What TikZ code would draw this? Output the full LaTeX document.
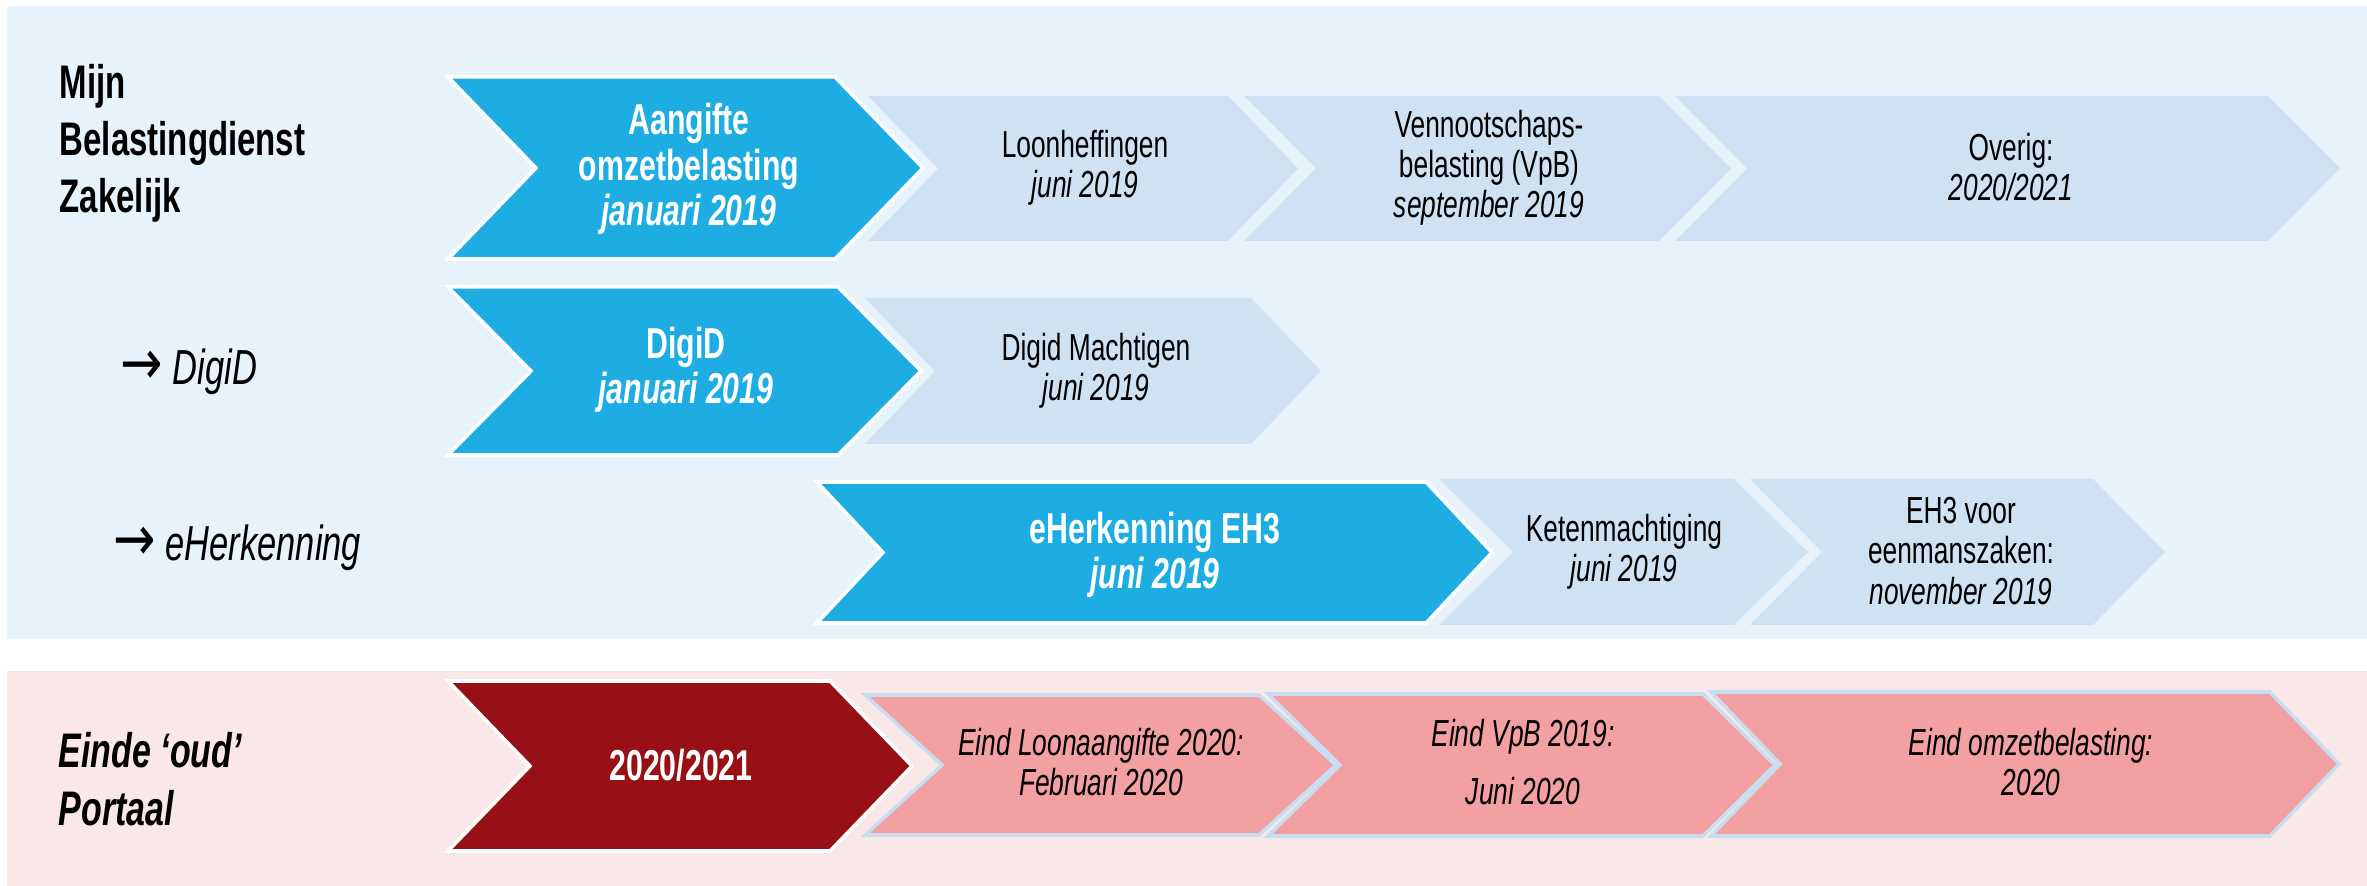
\documentclass[tikz,border=0pt]{standalone}
\usepackage{fontspec}
\setmainfont[FakeStretch=0.7]{Liberation Sans}
\newfontfamily\arrowfont[FakeStretch=0.8]{DejaVu Sans}

\definecolor{bgblue}{RGB}{231,243,250}
\definecolor{bgpink}{RGB}{250,232,233}
\definecolor{darkblue}{RGB}{30,173,227}
\definecolor{lightblue}{RGB}{207,226,243}
\definecolor{darkred}{RGB}{150,16,22}
\definecolor{lightred}{RGB}{242,160,162}
\definecolor{edgeblue}{RGB}{200,222,240}

\begin{document}
\begin{tikzpicture}[x=0.01cm, y=-0.01cm,
    plain/.style={font=\fontsize{10.7}{11.4}\selectfont, align=center, inner sep=0pt},
    strong/.style={font=\fontsize{12.3}{12.9}\selectfont\bfseries, text=white, align=center, inner sep=0pt},
    slanted/.style={font=\fontsize{10.7}{11.4}\selectfont\itshape, align=center, inner sep=0pt},
    side/.style={font=\fontsize{14}{16.3}\selectfont, anchor=west, align=left, inner sep=0pt}]

    \useasboundingbox (0,0) rectangle (2367,886);

    % Draw the two background bands
    \fill[bgblue] (7,6) rectangle (2367,639);
    \fill[bgpink] (7,671) rectangle (2367,886);

    % Draw the light chevrons: left/shoulder/tip/top/bottom
    \foreach \l/\s/\t/\a/\b in {868/1228/1298/96/241, 1244/1659/1731/96/241,
        1675/2268/2340/96/241, 865/1251/1321/298/444,
        1439/1734/1808/479/625, 1750/2093/2165/479/625} {
        \fill[lightblue] (\l,\a) -- (\s,\a) -- (\t,{(\a+\b)/2}) -- (\s,\b)
            -- (\l,\b) -- ({\l+\t-\s},{(\a+\b)/2}) -- cycle;
    }

    % Draw the pink chevrons of the old portal
    \foreach \l/\s/\t/\a/\b in {1711/2270/2339/692/836, 1268/1703/1775/694/836,
        865/1259/1336/695/835} {
        \filldraw[fill=lightred, draw=edgeblue, line width=1pt] (\l,\a) -- (\s,\a)
            -- (\t,{(\a+\b)/2}) -- (\s,\b) -- (\l,\b) -- ({\l+\t-\s},{(\a+\b)/2}) -- cycle;
    }

    % Draw the dark chevrons on top
    \foreach \l/\s/\t/\a/\b/\c in {448/835/923/77/259/darkblue, 448/838/921/287/455/darkblue,
        817/1426/1492/482/623/darkblue, 448/830/912/681/851/darkred} {
        \filldraw[fill=\c, draw=white, line width=1pt] (\l,\a) -- (\s,\a)
            -- (\t,{(\a+\b)/2}) -- (\s,\b) -- (\l,\b) -- ({\l+\t-\s},{(\a+\b)/2}) -- cycle;
    }

    % Label the rows
    \node[side, font=\fontsize{13.4}{16.2}\selectfont\bfseries] (mbz) at (59,143) {Mijn\\Belastingdienst\\Zakelijk};
    \node[side] (digid) at (120,372) {{\arrowfont\fontsize{18}{18}\selectfont →} \textit{DigiD}};
    \node[side] (eherk) at (113,548) {{\arrowfont\fontsize{18}{18}\selectfont →} \textit{eHerkenning}};
    \node[side, font=\fontsize{13.8}{16.5}\selectfont\bfseries\itshape] (einde) at (58,779) {Einde ‘oud’\\Portaal};

    % Label the chevrons of the first row
    \node[strong] (ob) at (689,169) {Aangifte\\omzetbelasting\\\textit{januari 2019}};
    \node[plain] (lh) at (1085,168) {Loonheffingen\\\textit{juni 2019}};
    \node[plain] (vpb) at (1489,168) {Vennootschaps-\\belasting (VpB)\\\textit{september 2019}};
    \node[plain] (overig) at (2011,167) {Overig:\\\textit{2020/2021}};

    % Label the chevrons of the second and third row
    \node[strong] (dd) at (686,370) {DigiD\\\textit{januari 2019}};
    \node[plain] (ddm) at (1096,371) {Digid Machtigen\\\textit{juni 2019}};
    \node[strong] (eh3) at (1155,555) {eHerkenning EH3\\\textit{juni 2019}};
    \node[plain] (keten) at (1624,552) {Ketenmachtiging\\\textit{juni 2019}};
    \node[plain] (ezk) at (1961,551) {EH3 voor\\eenmanszaken:\\\textit{november 2019}};

    % Label the chevrons of the old portal
    \node[strong] (jaar) at (681,765) {2020/2021};
    \node[slanted] (loon) at (1101,762) {Eind Loonaangifte 2020:\\Februari 2020};
    \node[slanted] (eindvpb) at (1523,762) {Eind VpB 2019:\\[5pt]Juni 2020};
    \node[slanted] (omzet) at (2031,762) {Eind omzetbelasting:\\2020};
\end{tikzpicture}
\end{document}
